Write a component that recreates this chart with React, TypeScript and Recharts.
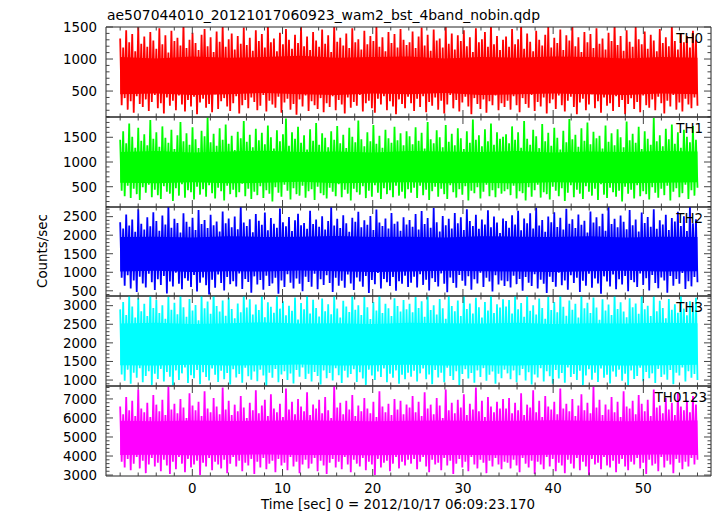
import React from "react";
import { ComposedChart, Line, Area, XAxis, YAxis } from "recharts";

// light curve covers -8 .. 56 s, each bin gives its max then its min
const startTime = -8;
const endTime = 56;
const coreTimes = [-8, -4, 0, 4, 8, 12, 16, 20, 24, 28, 32, 36, 40, 44, 48, 52, 56];

const th0Hi = [1320, 1180, 1450, 1260, 1390, 1120, 1510, 1240, 1350, 1190, 1420, 1290, 1160, 1480, 1230, 1370, 1100, 1440, 1280, 1330, 1210, 1560, 1170, 1300, 1410, 1250, 1140, 1380, 1470, 1200, 1340, 1110, 1430, 1270, 1520, 1190, 1310, 1400, 1150, 1360, 1240, 1490, 1220, 1330, 1130, 1450, 1280, 1390, 1180, 1540, 1260, 1320, 1120, 1410, 1230, 1470, 1300, 1160, 1380, 1250, 1500, 1200, 1350, 1140, 1420, 1290, 1190, 1460, 1240, 1370, 1110, 1530, 1270, 1330, 1210, 1400, 1170, 1480, 1260, 1310, 1150, 1440, 1230, 1360, 1280, 1510, 1190, 1340, 1120, 1420, 1250, 1390, 1180, 1470, 1300, 1220, 1260, 1430, 1170, 1350, 1490, 1210, 1380, 1130, 1460, 1290, 1320, 1180, 1520, 1240, 1400, 1150, 1370, 1280, 1450, 1200, 1340, 1110, 1480, 1260, 1310, 1420, 1190, 1550, 1230, 1360, 1140, 1300, 1350, 1190, 1470, 1230, 1310, 1540, 1160, 1400, 1270, 1120, 1440, 1300, 1210, 1380, 1500, 1180, 1330, 1250, 1460, 1140, 1370, 1290, 1520, 1200, 1340, 1110, 1420, 1260, 1390, 1170, 1480, 1240, 1320, 1150, 1410, 1280, 1550, 1220, 1360, 1130, 1450, 1270, 1190, 1500, 1310, 1230, 1430, 1160, 1380, 1290, 1120, 1470, 1250, 1340, 1200, 1530, 1280, 1150, 1400, 1260, 1360, 1180, 1440, 1300];
const th0Lo = [280, 390, 210, 340, 160, 420, 300, 250, 370, 190, 330, 440, 230, 310, 150, 400, 270, 350, 200, 430, 290, 180, 360, 260, 410, 140, 320, 380, 240, 300, 170, 450, 220, 340, 390, 260, 190, 310, 420, 150, 280, 360, 230, 400, 330, 200, 270, 440, 180, 350, 290, 240, 410, 160, 320, 380, 210, 300, 130, 370, 260, 430, 190, 340, 280, 220, 390, 170, 310, 250, 420, 200, 360, 290, 150, 400, 240, 330, 270, 440, 180, 310, 350, 230, 160, 380, 290, 420, 200, 340, 260, 140, 370, 300, 230, 410, 310, 190, 380, 250, 420, 170, 330, 270, 400, 210, 350, 150, 290, 440, 230, 360, 180, 320, 410, 260, 140, 390, 300, 220, 370, 160, 340, 280, 430, 200, 310, 250, 350, 210, 420, 280, 170, 390, 300, 240, 440, 190, 330, 260, 400, 150, 310, 370, 220, 430, 280, 180, 350, 410, 250, 140, 320, 380, 200, 290, 450, 230, 340, 160, 400, 270, 310, 190, 420, 250, 360, 140, 300, 390, 220, 330, 170, 430, 280, 240, 370, 200, 410, 310, 150, 350, 260, 440, 210, 320, 180, 380, 290, 230, 400, 270];
const th0CoreLo = [450, 460, 440, 450, 470, 450, 440, 460, 450, 470, 440, 450, 460, 450, 440, 460, 450];
const th0CoreHi = [1030, 1010, 1040, 1020, 1030, 1050, 1020, 1030, 1040, 1010, 1030, 1020, 1040, 1030, 1010, 1030, 1020];

const th1Hi = [1450, 1620, 1380, 1780, 1510, 1290, 1690, 1430, 1560, 1340, 1850, 1470, 1600, 1310, 1720, 1490, 1390, 1650, 1260, 1540, 1810, 1420, 1580, 1350, 1700, 1460, 1280, 1630, 1520, 1900, 1400, 1570, 1330, 1680, 1450, 1760, 1370, 1530, 1240, 1610, 1480, 1830, 1410, 1550, 1300, 1670, 1440, 1590, 1360, 1740, 1500, 1270, 1640, 1420, 1560, 1880, 1330, 1600, 1470, 1710, 1390, 1540, 1250, 1660, 1430, 1790, 1350, 1580, 1490, 1300, 1620, 1450, 1730, 1380, 1550, 1280, 1690, 1510, 1400, 1840, 1460, 1320, 1600, 1420, 1750, 1370, 1530, 1290, 1650, 1480, 1390, 1710, 1440, 1580, 1340, 1620, 1520, 1360, 1700, 1430, 1590, 1270, 1810, 1460, 1380, 1640, 1500, 1300, 1750, 1410, 1570, 1340, 1680, 1480, 1260, 1620, 1390, 1860, 1450, 1540, 1320, 1660, 1420, 1780, 1350, 1600, 1470, 1510, 1560, 1380, 1720, 1450, 1600, 1290, 1830, 1470, 1350, 1650, 1520, 1280, 1770, 1420, 1590, 1330, 1690, 1490, 1250, 1630, 1400, 1870, 1460, 1550, 1310, 1680, 1430, 1800, 1360, 1610, 1480, 1530, 1270, 1740, 1410, 1580, 1340, 1660, 1500, 1300, 1820, 1440, 1570, 1390, 1710, 1260, 1620, 1470, 1350, 1890, 1420, 1540, 1320, 1670, 1460, 1760, 1370, 1600, 1290, 1650, 1510, 1400, 1730, 1450];
const th1Lo = [420, 310, 520, 270, 460, 350, 230, 490, 380, 540, 290, 440, 330, 250, 510, 400, 360, 210, 470, 320, 550, 280, 430, 390, 240, 500, 340, 450, 300, 530, 370, 260, 480, 410, 220, 520, 350, 440, 290, 390, 560, 310, 460, 250, 400, 330, 510, 270, 430, 360, 200, 490, 380, 300, 540, 420, 240, 470, 350, 320, 520, 280, 410, 450, 230, 500, 370, 330, 260, 480, 400, 310, 550, 290, 440, 360, 220, 460, 390, 340, 510, 270, 420, 300, 530, 380, 250, 470, 350, 430, 290, 520, 320, 400, 260, 450, 380, 480, 270, 520, 330, 440, 230, 410, 500, 300, 460, 350, 250, 530, 390, 280, 450, 340, 510, 220, 420, 370, 490, 260, 400, 540, 310, 430, 290, 470, 360, 410, 450, 330, 520, 260, 410, 370, 220, 490, 300, 430, 540, 280, 390, 350, 240, 500, 420, 310, 470, 210, 380, 530, 290, 440, 360, 250, 510, 400, 320, 460, 230, 550, 340, 270, 480, 390, 300, 420, 200, 500, 360, 440, 260, 530, 310, 410, 350, 240, 490, 380, 280, 460, 330, 520, 220, 400, 470, 290, 370, 540, 250, 430, 320, 480];
const th1CoreLo = [580, 570, 590, 570, 580, 600, 570, 580, 590, 570, 580, 570, 590, 580, 570, 580, 590];
const th1CoreHi = [1200, 1220, 1190, 1210, 1230, 1200, 1210, 1190, 1220, 1210, 1200, 1220, 1190, 1210, 1200, 1220, 1210];

const th2Hi = [2350, 2180, 2560, 2260, 2420, 2090, 2700, 2310, 2150, 2480, 2240, 2620, 2380, 2120, 2530, 2290, 2800, 2200, 2440, 2330, 2070, 2590, 2360, 2230, 2470, 2140, 2680, 2300, 2410, 2190, 2550, 2270, 2370, 2100, 2640, 2320, 2450, 2210, 2500, 2160, 2780, 2340, 2250, 2430, 2080, 2570, 2390, 2280, 2610, 2130, 2460, 2310, 2200, 2720, 2350, 2240, 2490, 2110, 2400, 2580, 2270, 2330, 2170, 2660, 2300, 2420, 2230, 2510, 2150, 2380, 2750, 2260, 2440, 2190, 2540, 2320, 2090, 2470, 2360, 2630, 2210, 2400, 2280, 2520, 2140, 2690, 2340, 2250, 2450, 2180, 2600, 2310, 2370, 2120, 2480, 2290, 2410, 2230, 2570, 2150, 2650, 2300, 2460, 2200, 2730, 2350, 2100, 2520, 2270, 2440, 2180, 2600, 2320, 2480, 2140, 2700, 2380, 2250, 2550, 2170, 2420, 2290, 2670, 2210, 2500, 2340, 2060, 2450, 2380, 2200, 2540, 2290, 2660, 2130, 2450, 2320, 2590, 2180, 2740, 2260, 2410, 2090, 2500, 2350, 2620, 2220, 2470, 2150, 2710, 2310, 2430, 2190, 2560, 2280, 2390, 2070, 2640, 2340, 2480, 2240, 2580, 2120, 2760, 2300, 2440, 2210, 2530, 2360, 2160, 2680, 2270, 2420, 2100, 2610, 2330, 2490, 2230, 2700, 2170, 2400, 2290, 2550, 2140, 2460, 2370, 2630, 2250, 2510, 2110, 2780, 2320, 2430];
const th2Lo = [850, 640, 920, 560, 780, 470, 880, 700, 590, 960, 730, 520, 810, 660, 900, 430, 750, 620, 990, 690, 540, 840, 770, 600, 930, 480, 720, 860, 650, 400, 800, 580, 940, 710, 510, 870, 680, 760, 620, 970, 550, 820, 740, 450, 890, 670, 790, 530, 910, 630, 700, 850, 420, 780, 600, 950, 720, 560, 830, 690, 490, 880, 740, 610, 960, 540, 810, 660, 920, 710, 470, 850, 640, 770, 580, 940, 700, 520, 860, 750, 610, 900, 440, 790, 680, 980, 560, 820, 730, 630, 870, 500, 760, 690, 910, 600, 720, 880, 590, 950, 660, 800, 510, 840, 740, 620, 970, 690, 460, 860, 710, 580, 930, 770, 640, 890, 530, 810, 700, 990, 600, 850, 750, 480, 920, 670, 780, 630, 760, 590, 910, 680, 820, 500, 870, 720, 630, 950, 560, 800, 690, 440, 880, 740, 610, 990, 650, 780, 530, 920, 710, 850, 470, 770, 640, 960, 580, 830, 700, 420, 890, 750, 620, 940, 540, 810, 670, 900, 490, 790, 730, 600, 970, 660, 840, 510, 930, 710, 570, 860, 780, 450, 900, 640, 820, 690, 980, 550, 760, 620, 870, 730];
const th2CoreLo = [1020, 1040, 1010, 1030, 1020, 1050, 1030, 1010, 1020, 1040, 1030, 1020, 1010, 1030, 1040, 1020, 1030];
const th2CoreHi = [1950, 1960, 1940, 1970, 1950, 1960, 1980, 1950, 1960, 1940, 1970, 1960, 1950, 1970, 1940, 1960, 1950];

const th3Hi = [2900, 3100, 2750, 3280, 2980, 2680, 3200, 2850, 3050, 2720, 3350, 2940, 3150, 2800, 3010, 2650, 3240, 2890, 3080, 2770, 3300, 2960, 2700, 3180, 2870, 3020, 2610, 3260, 2930, 3110, 2780, 3380, 2990, 2840, 3140, 2730, 3210, 2910, 2660, 3060, 2820, 3320, 2950, 3170, 2760, 3030, 2880, 3250, 2690, 3090, 2970, 2810, 3290, 2920, 3120, 2740, 3000, 2860, 3220, 2630, 3070, 2900, 3340, 2790, 3160, 2940, 2710, 3190, 2850, 3040, 2770, 3270, 2920, 2680, 3130, 2980, 2830, 3310, 2890, 3010, 2750, 3230, 2960, 2640, 3100, 2870, 3360, 2800, 3050, 2930, 2720, 3200, 2990, 2840, 3150, 2900, 3050, 2820, 3230, 2940, 3120, 2700, 3300, 2880, 3010, 2760, 3180, 2930, 2650, 3270, 2990, 2850, 3140, 2720, 3360, 2910, 3060, 2790, 3210, 2960, 2680, 3100, 2870, 3330, 2800, 3040, 2950, 3170, 2980, 3150, 2790, 3260, 2900, 3070, 2700, 3330, 2860, 3010, 2760, 3190, 2940, 2650, 3240, 2880, 3100, 2820, 3370, 2970, 2730, 3140, 2890, 3050, 2680, 3290, 2930, 3080, 2800, 3220, 2950, 2620, 3170, 2870, 3030, 2750, 3310, 2910, 3090, 2840, 2690, 3200, 2960, 3060, 2780, 3350, 2900, 3000, 2720, 3250, 2850, 3130, 2940, 2660, 3180, 2890, 3040, 2810, 3280, 2920, 2740, 3120, 2990, 3210];
const th3Lo = [1150, 980, 1280, 900, 1200, 1060, 1320, 940, 1110, 1240, 870, 1170, 1030, 1300, 960, 1220, 1090, 860, 1260, 1000, 1180, 1340, 920, 1130, 1050, 1270, 890, 1210, 1080, 990, 1310, 1140, 950, 1250, 1020, 1190, 880, 1290, 1070, 1160, 930, 1330, 1100, 1010, 1230, 970, 1280, 1120, 850, 1200, 1060, 1300, 940, 1150, 1240, 1000, 1180, 910, 1270, 1090, 1340, 1030, 1170, 960, 1220, 1110, 880, 1260, 1050, 1190, 990, 1320, 1130, 920, 1250, 1070, 1160, 1290, 950, 1210, 1040, 870, 1280, 1120, 1000, 1230, 1080, 1310, 940, 1170, 1060, 1260, 900, 1140, 1020, 1200, 1090, 1250, 960, 1180, 1310, 1020, 1150, 890, 1270, 1070, 1200, 940, 1330, 1110, 1000, 1240, 870, 1160, 1290, 1040, 1190, 930, 1260, 1080, 1320, 980, 1140, 1230, 900, 1170, 1050, 1280, 1180, 1020, 1260, 940, 1130, 1300, 990, 1210, 880, 1150, 1070, 1320, 960, 1240, 1100, 900, 1270, 1040, 1190, 930, 1340, 1080, 1160, 1000, 1250, 870, 1120, 1290, 1010, 1200, 950, 1310, 1060, 1140, 910, 1230, 1090, 1280, 980, 1170, 860, 1260, 1030, 1110, 1330, 970, 1220, 1050, 1180, 920, 1300, 1080, 1150, 1010, 1270, 890, 1200, 1120, 1340, 960, 1240, 1060, 1160, 1000];
const th3CoreLo = [1400, 1390, 1410, 1390, 1400, 1420, 1390, 1400, 1410, 1390, 1400, 1390, 1410, 1400, 1390, 1400, 1410];
const th3CoreHi = [2520, 2540, 2510, 2530, 2550, 2520, 2530, 2510, 2540, 2530, 2520, 2540, 2510, 2530, 2520, 2540, 2530];

const th0123Hi = [6600, 6200, 7100, 6400, 6900, 6100, 7500, 6500, 6300, 6800, 6050, 7200, 6700, 6350, 6950, 6150, 7650, 6450, 6750, 6250, 7000, 6550, 6000, 7300, 6650, 6400, 6850, 6100, 7400, 6500, 6300, 7050, 6600, 6200, 7600, 6450, 6900, 6150, 6700, 6350, 7150, 6550, 6000, 6800, 6400, 7450, 6250, 6650, 6950, 6100, 7250, 6500, 6300, 6750, 6050, 7550, 6450, 6850, 6200, 7000, 6600, 6350, 7350, 6150, 6700, 6500, 6950, 6250, 7100, 6400, 6000, 7700, 6550, 6800, 6200, 6900, 6450, 7200, 6100, 6650, 6350, 7050, 6500, 6250, 6850, 6050, 7400, 6600, 6300, 6750, 6150, 7000, 6450, 6900, 6200, 6700, 6550, 7150, 6300, 6850, 6100, 7350, 6500, 6700, 6200, 7050, 6650, 6000, 7500, 6400, 6800, 6250, 6950, 6550, 7250, 6150, 6750, 6450, 7600, 6350, 6900, 6050, 7100, 6600, 6300, 6850, 6500, 7000, 6500, 7050, 6250, 6800, 6400, 7300, 6150, 6700, 6550, 7450, 6300, 6900, 6050, 7150, 6600, 6450, 6850, 6200, 7550, 6500, 6750, 6350, 7000, 6100, 6650, 7250, 6400, 6800, 6250, 7650, 6550, 6950, 6150, 6700, 6450, 7100, 6300, 6850, 6050, 7400, 6600, 6500, 6900, 6200, 7200, 6750, 6350, 6950, 6100, 7500, 6550, 6650, 6250, 7050, 6450, 6800, 6150, 7350, 6600, 6400, 6900, 6300, 7150, 6700];
const th0123Lo = [3700, 3400, 3850, 3250, 3600, 3950, 3350, 3750, 3100, 3550, 3900, 3450, 3650, 3200, 3800, 3500, 3050, 3700, 3300, 3950, 3600, 3150, 3850, 3400, 3550, 3750, 3000, 3650, 3450, 3900, 3250, 3700, 3550, 3350, 3800, 3100, 3600, 3950, 3450, 3750, 3200, 3650, 3500, 3850, 3050, 3700, 3400, 3900, 3300, 3600, 3750, 3150, 3850, 3500, 3650, 3250, 3950, 3450, 3700, 3100, 3550, 3800, 3350, 3600, 3900, 3200, 3750, 3500, 3050, 3650, 3850, 3400, 3700, 3300, 3950, 3550, 3150, 3800, 3600, 3450, 3900, 3250, 3700, 3550, 3000, 3850, 3400, 3650, 3750, 3200, 3600, 3950, 3350, 3700, 3500, 3800, 3600, 3850, 3300, 3700, 3950, 3450, 3150, 3800, 3550, 3650, 3250, 3900, 3500, 3750, 3050, 3600, 3850, 3400, 3700, 3200, 3950, 3550, 3350, 3800, 3650, 3100, 3750, 3450, 3900, 3550, 3300, 3700, 3650, 3350, 3800, 3500, 3150, 3900, 3600, 3400, 3750, 3050, 3700, 3550, 3300, 3950, 3450, 3850, 3200, 3650, 3500, 3100, 3800, 3600, 3350, 3900, 3250, 3700, 3450, 3000, 3850, 3550, 3650, 3300, 3950, 3500, 3400, 3750, 3150, 3600, 3850, 3450, 3250, 3700, 3550, 3900, 3350, 3650, 3050, 3800, 3500, 3600, 3200, 3950, 3400, 3750, 3550, 3100, 3850, 3650, 3300, 3700, 3450, 3900, 3550, 3800];
const th0123CoreLo = [4050, 4070, 4040, 4060, 4080, 4050, 4060, 4040, 4070, 4050, 4060, 4040, 4070, 4050, 4060, 4080, 4050];
const th0123CoreHi = [5850, 5830, 5870, 5840, 5860, 5880, 5850, 5830, 5860, 5870, 5840, 5850, 5880, 5860, 5830, 5850, 5870];

// labelled y ticks per panel
const th0Labels = [500, 1000, 1500];
const th1Labels = [500, 1000, 1500];
const th2Labels = [500, 1000, 1500, 2000, 2500];
const th3Labels = [1000, 1500, 2000, 2500, 3000];
const th0123Labels = [3000, 4000, 5000, 6000, 7000];
const xLabels = [0, 10, 20, 30, 40, 50];

const FONT = '"DejaVu Sans", "Liberation Sans", Arial, sans-serif';
const FS = 13.4;
const W = 717;
const X_DOMAIN: [number, number] = [-9.57, 57.5];

function range(a: number, b: number, s: number) {
  const out: number[] = [];
  for (let v = a; v <= b + 1e-9; v += s) out.push(Math.round(v * 1000) / 1000);
  return out;
}

function buildSamples(hi: number[], lo: number[]) {
  const n = Math.min(hi.length, lo.length);
  const step = (endTime - startTime) / (2 * n - 1);
  const rows: { t: number; v: number }[] = [];
  for (let i = 0; i < n; i++) {
    rows.push({ t: startTime + 2 * i * step, v: hi[i] });
    rows.push({ t: startTime + (2 * i + 1) * step, v: lo[i] });
  }
  return rows;
}

function buildCore(lo: number[], hi: number[]) {
  return coreTimes.map((t, i) => ({ t, band: [lo[i], hi[i]] }));
}

const panels = [
  { name: "TH0", color: "#ff0000", hi: th0Hi, lo: th0Lo, coreLo: th0CoreLo, coreHi: th0CoreHi, domain: [95, 1500], minor: 100, labels: th0Labels, top: 27, height: 90, labelX: 703 },
  { name: "TH1", color: "#00ff00", hi: th1Hi, lo: th1Lo, coreLo: th1CoreLo, coreHi: th1CoreHi, domain: [90, 1910], minor: 100, labels: th1Labels, top: 117, height: 90, labelX: 703 },
  { name: "TH2", color: "#0000ff", hi: th2Hi, lo: th2Lo, coreLo: th2CoreLo, coreHi: th2CoreHi, domain: [360, 2760], minor: 100, labels: th2Labels, top: 207, height: 89, labelX: 703 },
  { name: "TH3", color: "#00ffff", hi: th3Hi, lo: th3Lo, coreLo: th3CoreLo, coreHi: th3CoreHi, domain: [840, 3260], minor: 100, labels: th3Labels, top: 296, height: 90, labelX: 703 },
  { name: "TH0123", color: "#ff00ff", hi: th0123Hi, lo: th0123Lo, coreLo: th0123CoreLo, coreHi: th0123CoreHi, domain: [2950, 7680], minor: 200, labels: th0123Labels, top: 386, height: 90, labelX: 707 },
];

const TICK = "#444";

function LeftTick(props: any) {
  const { x, y, payload, labels } = props;
  const major = labels.includes(payload.value);
  return (
    <g>
      <line x1={x} y1={y} x2={x + (major ? 7 : 3.5)} y2={y} stroke={TICK} strokeWidth={1} />
      {major && (
        <text x={x - 9} y={y} dy="0.36em" textAnchor="end" fontFamily={FONT} fontSize={FS} fill="#000">
          {payload.value}
        </text>
      )}
    </g>
  );
}

function RightTick(props: any) {
  const { x, y, payload, labels } = props;
  const major = labels.includes(payload.value);
  return <line x1={x} y1={y} x2={x - (major ? 7 : 3.5)} y2={y} stroke={TICK} strokeWidth={1} />;
}

function TopTick(props: any) {
  const { x, y, payload } = props;
  const major = xLabels.includes(payload.value);
  return <line x1={x} y1={y} x2={x} y2={y + (major ? 7 : 3.5)} stroke={TICK} strokeWidth={1} />;
}

function BottomTick(props: any) {
  const { x, y, payload, showLabels } = props;
  const major = xLabels.includes(payload.value);
  return (
    <g>
      <line x1={x} y1={y} x2={x} y2={y - (major ? 7 : 3.5)} stroke={TICK} strokeWidth={1} />
      {showLabels && major && (
        <text x={x} y={y + 16.5} textAnchor="middle" fontFamily={FONT} fontSize={FS} fill="#000">
          {payload.value}
        </text>
      )}
    </g>
  );
}

const xTicks = range(-8, 56, 2);

function Panel({ p, last }: { p: (typeof panels)[number]; last: boolean }) {
  const bottomH = last ? 40 : 10;
  const H = p.height + 10 + bottomH;
  const yTicks = range(Math.ceil(p.domain[0] / p.minor) * p.minor, p.domain[1], p.minor);
  const samples = buildSamples(p.hi, p.lo);
  const core = buildCore(p.coreLo, p.coreHi);
  const margin = { top: 0, right: 0, bottom: 0, left: 0 };
  const axisLine = { stroke: "#222", strokeWidth: 1 };

  return (
    <div style={{ position: "absolute", left: 0, top: p.top - 10, width: W, height: H }}>
      <div style={{ position: "absolute", left: 0, top: 0 }}>
        <ComposedChart width={W} height={H} data={core} margin={margin}>
          <XAxis dataKey="t" type="number" domain={X_DOMAIN} allowDataOverflow height={bottomH} tick={false} tickLine={false} axisLine={false} />
          <XAxis xAxisId="top" orientation="top" dataKey="t" type="number" domain={X_DOMAIN} allowDataOverflow height={10} tick={false} tickLine={false} axisLine={false} />
          <YAxis type="number" domain={p.domain} allowDataOverflow width={106} tick={false} tickLine={false} axisLine={false} />
          <YAxis yAxisId="right" orientation="right" type="number" domain={p.domain} allowDataOverflow width={6} tick={false} tickLine={false} axisLine={false} />
          <Area dataKey="band" type="linear" stroke="none" fill={p.color} fillOpacity={1} isAnimationActive={false} />
        </ComposedChart>
      </div>
      <div style={{ position: "absolute", left: 0, top: 0 }}>
        <ComposedChart width={W} height={H} data={samples} margin={margin}>
          <XAxis
            dataKey="t"
            type="number"
            domain={X_DOMAIN}
            allowDataOverflow
            height={bottomH}
            ticks={xTicks}
            interval={0}
            tickSize={0}
            tickMargin={0}
            tickLine={false}
            axisLine={axisLine}
            tick={(tp: any) => <BottomTick {...tp} showLabels={last} />}
          />
          <XAxis
            xAxisId="top"
            orientation="top"
            dataKey="t"
            type="number"
            domain={X_DOMAIN}
            allowDataOverflow
            height={10}
            ticks={xTicks}
            interval={0}
            tickSize={0}
            tickMargin={0}
            tickLine={false}
            axisLine={axisLine}
            tick={(tp: any) => <TopTick {...tp} />}
          />
          <YAxis
            type="number"
            domain={p.domain}
            allowDataOverflow
            width={106}
            ticks={yTicks}
            interval={0}
            tickSize={0}
            tickMargin={0}
            tickLine={false}
            axisLine={axisLine}
            tick={(tp: any) => <LeftTick {...tp} labels={p.labels} />}
          />
          <YAxis
            yAxisId="right"
            orientation="right"
            type="number"
            domain={p.domain}
            allowDataOverflow
            width={6}
            ticks={yTicks}
            interval={0}
            tickSize={0}
            tickMargin={0}
            tickLine={false}
            axisLine={axisLine}
            tick={(tp: any) => <RightTick {...tp} labels={p.labels} />}
          />
          <Line dataKey="v" type="linear" stroke={p.color} strokeWidth={1.8} strokeLinejoin="bevel" dot={false} activeDot={false} isAnimationActive={false} />
        </ComposedChart>
      </div>
    </div>
  );
}

export default function App() {
  return (
    <div style={{ position: "absolute", left: 0, top: 0, width: W, height: 516, background: "#fff", overflow: "hidden" }}>
      {panels.map((p, i) => (
        <Panel key={p.name} p={p} last={i === panels.length - 1} />
      ))}
      <svg width={W} height={516} style={{ position: "absolute", left: 0, top: 0, pointerEvents: "none" }}>
        <text x={107} y={20} textLength={433} lengthAdjust="spacingAndGlyphs" fontFamily={FONT} fontSize={FS} fill="#000">
          ae507044010_20121017060923_wam2_bst_4band_nobin.qdp
        </text>
        {panels.map((p) => (
          <text key={p.name} x={p.labelX} y={p.top + 16} textAnchor="end" fontFamily={FONT} fontSize={FS} fill="#000">
            {p.name}
          </text>
        ))}
        <text x={42} y={251} transform="rotate(-90 42 251)" textAnchor="middle" dominantBaseline="central" fontFamily={FONT} fontSize={FS} fill="#000">
          Counts/sec
        </text>
        <text x={398} y={509} textAnchor="middle" textLength={274} lengthAdjust="spacingAndGlyphs" fontFamily={FONT} fontSize={FS} fill="#000">
          Time [sec] 0 = 2012/10/17 06:09:23.170
        </text>
      </svg>
    </div>
  );
}
